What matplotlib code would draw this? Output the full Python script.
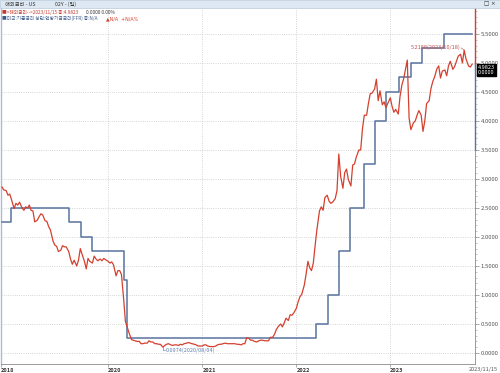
import matplotlib
matplotlib.use('Agg')
import matplotlib.pyplot as plt
import matplotlib.transforms as mtransforms
from matplotlib.patches import Rectangle
import numpy as np
import pandas as pd

plt.rcParams['font.family'] = ['Noto Sans CJK KR', 'DejaVu Sans']

# US 2Y yield, read on the 1st/8th/15th/22nd of each month (2018 starts on 11/15)
us2y_2018 = [2.86, 2.81, 2.80, 2.72, 2.74, 2.64]
us2y_2019 = [2.49, 2.58, 2.55, 2.60,
             2.50, 2.46, 2.52, 2.50,
             2.55, 2.46, 2.45, 2.26,
             2.29, 2.35, 2.40, 2.38,
             2.28, 2.27, 2.18, 2.12,
             1.93, 1.86, 1.84, 1.75,
             1.77, 1.85, 1.83, 1.83,
             1.75, 1.62, 1.53, 1.60,
             1.50, 1.60, 1.80, 1.70,
             1.58, 1.45, 1.63, 1.58,
             1.55, 1.67, 1.62, 1.59,
             1.62, 1.59, 1.63, 1.61]
us2y_2020 = [1.58, 1.55, 1.57, 1.52,
             1.33, 1.42, 1.42, 1.35,
             0.95, 0.55, 0.45, 0.35,
             0.23, 0.22, 0.21, 0.20,
             0.20, 0.16, 0.16, 0.17,
             0.17, 0.21, 0.19, 0.19,
             0.16, 0.16, 0.15, 0.15,
             0.10, 0.13, 0.15, 0.16,
             0.14, 0.13, 0.14, 0.14,
             0.13, 0.15, 0.14, 0.16,
             0.17, 0.18, 0.17, 0.16,
             0.15, 0.14, 0.12, 0.12]
us2y_2021 = [0.12, 0.14, 0.14, 0.12,
             0.11, 0.11, 0.11, 0.12,
             0.14, 0.15, 0.15, 0.16,
             0.17, 0.16, 0.16, 0.16,
             0.16, 0.16, 0.15, 0.15,
             0.14, 0.16, 0.16, 0.26,
             0.25, 0.22, 0.22, 0.20,
             0.19, 0.21, 0.22, 0.22,
             0.21, 0.21, 0.21, 0.27,
             0.27, 0.32, 0.40, 0.45,
             0.50, 0.45, 0.52, 0.60,
             0.56, 0.66, 0.65, 0.69]
us2y_2022 = [0.77, 0.88, 0.97, 1.01,
             1.17, 1.36, 1.58, 1.47,
             1.42, 1.55, 1.85, 2.13,
             2.45, 2.52, 2.46, 2.68,
             2.72, 2.62, 2.58, 2.60,
             2.66, 2.80, 3.43, 3.05,
             2.84, 3.11, 3.17, 2.99,
             2.88, 3.24, 3.26, 3.38,
             3.50, 3.50, 3.87, 4.10,
             4.10, 4.30, 4.47, 4.48,
             4.55, 4.72, 4.35, 4.52,
             4.28, 4.33, 4.23, 4.30]
us2y_2023 = [4.40, 4.25, 4.15, 4.20,
             4.12, 4.43, 4.62, 4.73,
             4.89, 5.05, 4.05, 3.85,
             3.97, 4.00, 4.10, 4.18,
             4.10, 3.82, 4.00, 4.30,
             4.35, 4.56, 4.68, 4.76,
             4.90, 4.95, 4.74, 4.86,
             4.88, 4.78, 4.95, 5.03,
             4.89, 4.94, 5.03, 5.12,
             5.15, 5.00, 5.22, 5.07,
             4.95, 4.93, 4.98]

# Fed funds target upper bound (change dates)
ffr_dates = ['2018-11-15', '2018-12-20', '2019-08-01', '2019-09-19', '2019-10-31',
             '2020-03-04', '2020-03-16', '2022-03-17', '2022-05-05', '2022-06-16',
             '2022-07-28', '2022-09-22', '2022-11-03', '2022-12-15', '2023-02-02',
             '2023-03-23', '2023-05-04', '2023-07-27', '2023-11-15']
ffr_vals = [2.25, 2.50, 2.25, 2.00, 1.75, 1.25, 0.25, 0.50, 1.00, 1.75,
            2.50, 3.25, 4.00, 4.50, 4.75, 5.00, 5.25, 5.50, 5.50]

year_ticks = ['2020-01-01', '2021-01-01', '2022-01-01', '2023-01-01']
year_labels = ['2020', '2021', '2022', '2023']

# build the sample dates for the 2Y series
days = [1, 8, 15, 22]
us2y_dates = ['2018-11-15', '2018-11-22'] + ['2018-12-%02d' % d for d in days]
for yr in range(2019, 2023):
    for m in range(1, 13):
        us2y_dates += ['%d-%02d-%02d' % (yr, m, d) for d in days]
for m in range(1, 11):
    us2y_dates += ['2023-%02d-%02d' % (m, d) for d in days]
us2y_dates += ['2023-11-01', '2023-11-08', '2023-11-15']
us2y_vals = us2y_2018 + us2y_2019 + us2y_2020 + us2y_2021 + us2y_2022 + us2y_2023
us2y_dates = pd.to_datetime(us2y_dates)
ffr_dates = pd.to_datetime(ffr_dates)

RED = '#d4402e'
BLUE = '#58739f'

fig = plt.figure(figsize=(5, 3.73), dpi=100)
ax = fig.add_axes([0.002, 9 / 373, 0.948, 356 / 373])

ax.step(ffr_dates, ffr_vals, where='post', color=BLUE, lw=1.1, zorder=3)
ax.plot(us2y_dates, us2y_vals, color=RED, lw=0.9, zorder=4)

ax.set_xlim(pd.Timestamp('2018-11-11'), pd.Timestamp('2023-11-26'))
ax.set_ylim(-0.19, 5.948)

# y axis on the right
ax.yaxis.tick_right()
ax.set_yticks(np.arange(0, 5.51, 0.5))
ax.set_yticks(np.arange(0, 5.91, 0.1), minor=True)
ax.yaxis.set_major_formatter(matplotlib.ticker.FormatStrFormatter('%.4f'))
ax.tick_params(axis='y', which='major', length=3, width=0.5, color='#888888',
               labelsize=4.3, labelcolor='#555555', pad=1)
ax.tick_params(axis='y', which='minor', length=1.5, width=0.4, color='#999999')

# x axis
xt = [pd.Timestamp('2018-11-11')] + list(pd.to_datetime(year_ticks))
ax.set_xticks(xt)
ax.set_xticklabels(['2018'] + year_labels)
for lab in ax.get_xticklabels():
    lab.set_horizontalalignment('left')
    lab.set_fontweight('bold')
ax.tick_params(axis='x', length=2, width=0.5, color='#888888', labelsize=4,
               labelcolor='#333333', pad=1)

# grid
ax.grid(axis='y', which='major', ls=':', color='#c8c8c8', lw=0.6)
for d in year_ticks:
    ax.axvline(pd.Timestamp(d), ls=':', color='#c8c8c8', lw=0.6, zorder=1)

for s in ['top', 'right']:
    ax.spines[s].set_visible(False)
ax.spines['left'].set_color('#a9bcd3')
ax.spines['left'].set_linewidth(1.0)
ax.spines['bottom'].set_color('#8a8a8a')
ax.spines['bottom'].set_linewidth(0.6)

# coloured right axis line
tr = mtransforms.blended_transform_factory(ax.transAxes, ax.transData)
last = us2y_vals[-1]
ax.plot([1, 1], [last, 5.948], color=RED, lw=1.0, transform=tr, clip_on=False)
ax.plot([1, 1], [3.5, last], color=BLUE, lw=1.0, transform=tr, clip_on=False)
ax.plot([1, 1], [-0.19, 3.5], color='#8a8a8a', lw=0.6, transform=tr, clip_on=False)

# current value box
ax.text(1.006, last - 0.1, '4.9823\n0.0000', transform=tr, ha='left', va='center',
        fontsize=4, color='white', linespacing=1.0,
        bbox=dict(boxstyle='square,pad=0.15', fc='black', ec='black'))

# max / min annotations
imax = int(np.argmax(us2y_vals))
ax.plot([us2y_dates[imax] - pd.Timedelta(days=12), us2y_dates[imax]],
        [us2y_vals[imax] + 0.04, us2y_vals[imax]], color='#c07070', lw=0.5)
ax.text(us2y_dates[imax] - pd.Timedelta(days=12), us2y_vals[imax] + 0.05,
        '5.2188(2023/10/18)', ha='right', va='center', fontsize=4, color='#c0504d')
imin = int(np.argmin(us2y_vals))
xm = us2y_dates[imin]
ax.plot([xm, xm, xm + pd.Timedelta(days=8)], [us2y_vals[imin], 0.05, 0.05],
        color='#7088b0', lw=0.5)
ax.text(xm + pd.Timedelta(days=9), 0.05, '0.0974(2020/08/04)', ha='left', va='center',
        fontsize=4, color='#6080b0')

# end date under the right axis
fig.text(498 / 500, 1 - 369 / 373, '2023/11/15', ha='right', va='center',
         fontsize=4, color='#555555')

# header bar
fig.add_artist(Rectangle((0, 365 / 373), 1, 8 / 373, transform=fig.transFigure,
                         facecolor='#dde8f3', edgecolor='#b8c8da', lw=0.5))
fig.text(5 / 500, 1 - 4 / 373, '해외금리 - US', fontsize=3.8, color='#333333', va='center')
fig.text(55 / 500, 1 - 4 / 373, '02Y - (일)', fontsize=3.8, color='#333333', va='center')
fig.text(496 / 500, 1 - 4 / 373, '□ ×', fontsize=4, color='#333333', va='center', ha='right',
         family=['DejaVu Sans'])

# legend lines
fig.text(2 / 500, 1 - 12.5 / 373, '■<해외금리-->2023/11/15 종:4.9823', fontsize=3.4,
         color='#c0392b', va='center')
fig.text(86 / 500, 1 - 12.5 / 373, '0.0000 0.00%', fontsize=3.4, color='#333333', va='center')
fig.text(2 / 500, 1 - 18.5 / 373, '■미국:기준금리 상단:연방기금금리(FFR) 종:N/A', fontsize=3.4,
         color='#3e5d8a', va='center')
fig.text(106 / 500, 1 - 18.5 / 373, '▲N/A  +N/A%', fontsize=3.4, color='#d4402e', va='center',
         family=['DejaVu Sans'])

fig.savefig('out.png', dpi=100)
